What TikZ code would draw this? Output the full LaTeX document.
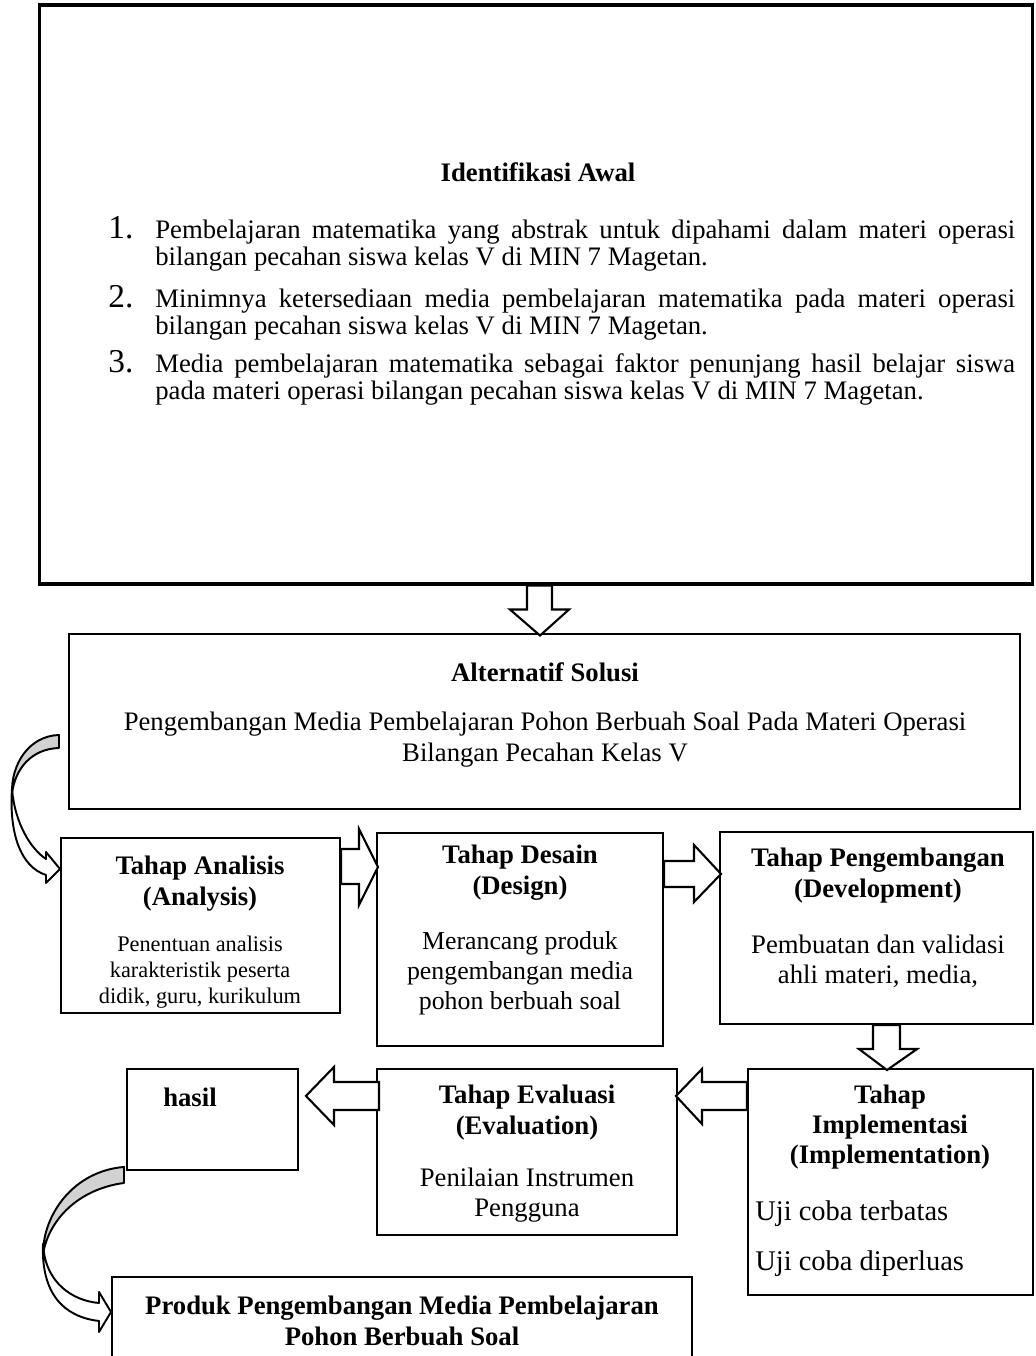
\documentclass[tikz,border=0pt]{standalone}
\usepackage{fontspec}
\setmainfont{Liberation Serif}
\usetikzlibrary{calc,positioning}
\hyphenpenalty=10000
\exhyphenpenalty=10000

\begin{document}
\begin{tikzpicture}[x=0.02cm,y=-0.02cm,
		box/.style={shape=rectangle,draw=black,line width=1.2pt,fill=white,inner sep=0pt},
		title/.style={font=\bfseries\fontsize{15.2}{17.6}\selectfont,align=center,inner sep=0pt},
		body/.style={font=\fontsize{15.2}{17}\selectfont,align=center,inner sep=0pt},
		item/.style={font=\fontsize{15.2}{15.9}\selectfont,text width=17.2cm,align=justify,inner sep=0pt,anchor=base west},
		num/.style={font=\fontsize{19}{19}\selectfont,inner sep=0pt,anchor=base west},
		barrow/.style={draw=black,line width=1.2pt,fill=white,line join=miter},
		carrow/.style={draw=black,line width=1.1pt,line join=round}]
	\useasboundingbox (0,0) rectangle (1035,1356);

	% kotak
	\node[box,line width=1.8pt,minimum width=19.88cm,minimum height=11.58cm] (awal) at (536,294.5) {};
	\node[box,minimum width=19.02cm,minimum height=3.5cm] (solusi) at (544.5,721.5) {};
	\node[box,minimum width=5.58cm,minimum height=3.5cm] (analisis) at (200.5,925.5) {};
	\node[box,minimum width=5.72cm,minimum height=4.26cm] (desain) at (520,939.5) {};
	\node[box,minimum width=6.26cm,minimum height=3.84cm] (kembang) at (876.5,928) {};
	\node[box,minimum width=5.7cm,minimum height=4.52cm] (implementasi) at (890.5,1182) {};
	\node[box,minimum width=6cm,minimum height=3.32cm] (evaluasi) at (527,1152) {};
	\node[box,minimum width=3.42cm,minimum height=2.02cm] (hasil) at (212.5,1119.5) {};
	\node[box,minimum width=11.6cm,minimum height=1.86cm] (produk) at (402,1323.5) {};

	% identifikasi awal
	\node[title] (awaltitle) at (538,172) {Identifikasi Awal};
	\node[num] (n1) at (108,238) {1.};
	\node[item] (item1) at (155,238) {Pembelajaran matematika yang abstrak untuk dipahami dalam materi operasi bilangan pecahan siswa kelas V di MIN 7 Magetan.};
	\node[num] (n2) at (108,307) {2.};
	\node[item] (item2) at (155,307) {Minimnya ketersediaan media pembelajaran matematika pada materi operasi bilangan pecahan siswa kelas V di MIN 7 Magetan.};
	\node[num] (n3) at (108,372) {3.};
	\node[item] (item3) at (155,372) {Media pembelajaran matematika sebagai faktor penunjang hasil belajar siswa pada materi operasi bilangan pecahan siswa kelas V di MIN 7 Magetan.};

	% alternatif solusi
	\node[title] (solusititle) at (545,672) {Alternatif Solusi};
	\node[body,font=\fontsize{15.2}{17.6}\selectfont] (solusibody) at (545,739.5) {Pengembangan Media Pembelajaran Pohon Berbuah Soal Pada Materi Operasi\\Bilangan Pecahan Kelas V};

	% tahap-tahap
	\node[title] (analisistitle) at (200,883.5) {Tahap Analisis\\(Analysis)};
	\node[body,font=\fontsize{12.7}{14.7}\selectfont] (analisisbody) at (200,972) {Penentuan analisis\\karakteristik peserta\\didik, guru, kurikulum};
	\node[title] (desaintitle) at (520,872.5) {Tahap Desain\\(Design)};
	\node[body,font=\fontsize{14.7}{17}\selectfont] (desainbody) at (520,973.5) {Merancang produk\\pengembangan media\\pohon berbuah soal};
	\node[title] (kembangtitle) at (878,875.5) {Tahap Pengembangan\\(Development)};
	\node[body] (kembangbody) at (878,961) {Pembuatan dan validasi\\ahli materi, media,};
	\node[title,font=\bfseries\fontsize{15.2}{17}\selectfont] (impltitle) at (890,1127) {Tahap\\Implementasi\\(Implementation)};
	\node[body,font=\fontsize{16.2}{17}\selectfont,anchor=base west] (impl1) at (755,1220) {Uji coba terbatas};
	\node[body,font=\fontsize{16.2}{17}\selectfont,anchor=base west] (impl2) at (755,1270) {Uji coba diperluas};
	\node[title] (evaltitle) at (527,1112.5) {Tahap Evaluasi\\(Evaluation)};
	\node[body] (evalbody) at (527,1195) {Penilaian Instrumen\\Pengguna};
	\node[title] (hasiltitle) at (190,1097) {hasil};
	\node[title] (produktitle) at (402,1321) {Produk Pengembangan Media Pembelajaran\\Pohon Berbuah Soal};

	% panah blok
	\draw[barrow] ($(awal.south)+(-9,0)$) -- ($(awal.south)+(-9,24)$) -- ($(awal.south)+(-26,24)$)
		-- ($(awal.south)+(4,50)$) -- ($(awal.south)+(33,24)$) -- ($(awal.south)+(16,24)$) -- ($(awal.south)+(16,0)$) -- cycle;
	\draw[barrow] ($(analisis.north east)+(0,12)$) -- ($(analisis.north east)+(18,12)$) -- ($(analisis.north east)+(18,-8)$)
		-- ($(analisis.north east)+(37,30)$) -- ($(analisis.north east)+(18,68)$) -- ($(analisis.north east)+(18,47)$) -- ($(analisis.north east)+(0,47)$) -- cycle;
	\draw[barrow] ($(desain.north east)+(0,29)$) -- ($(desain.north east)+(30,29)$) -- ($(desain.north east)+(30,13)$)
		-- ($(desain.north east)+(57,42)$) -- ($(desain.north east)+(30,70)$) -- ($(desain.north east)+(30,55)$) -- ($(desain.north east)+(0,55)$) -- cycle;
	\draw[barrow] ($(kembang.south)+(-3.5,0)$) -- ($(kembang.south)+(-3.5,24)$) -- ($(kembang.south)+(-17.5,24)$)
		-- ($(kembang.south)+(10.5,45)$) -- ($(kembang.south)+(40.5,24)$) -- ($(kembang.south)+(23.5,24)$) -- ($(kembang.south)+(23.5,0)$) -- cycle;
	\draw[barrow] ($(implementasi.north west)+(0,14)$) -- ($(implementasi.north west)+(-45,14)$) -- ($(implementasi.north west)+(-45,1)$)
		-- ($(implementasi.north west)+(-71,28)$) -- ($(implementasi.north west)+(-45,56)$) -- ($(implementasi.north west)+(-45,42)$) -- ($(implementasi.north west)+(0,42)$) -- cycle;
	\draw[barrow] ($(evaluasi.north west)+(3,14)$) -- ($(evaluasi.north west)+(-42,14)$) -- ($(evaluasi.north west)+(-42,-1)$)
		-- ($(evaluasi.north west)+(-70,28)$) -- ($(evaluasi.north west)+(-42,57)$) -- ($(evaluasi.north west)+(-42,42)$) -- ($(evaluasi.north west)+(3,42)$) -- cycle;

	% panah lengkung
	\begin{scope}[shift={(analisis.north west)}]
		\draw[carrow,fill=gray!35] (-1,-102) .. controls (-31,-101) and (-49,-73) .. (-48,-43)
			.. controls (-45,-68) and (-29,-88) .. (-1,-89) -- cycle;
		\draw[carrow,fill=white] (-48,-48) .. controls (-45,-13) and (-29,12) .. (-14,22) -- (-14,15) -- (0,32)
			-- (-14,46) -- (-14,38) .. controls (-39,30) and (-51,-3) .. (-48,-48) -- cycle;
	\end{scope}
	\begin{scope}[shift={(produk.north west)}]
		\draw[carrow,fill=gray!35] (13,-109) .. controls (-37,-105) and (-68,-62) .. (-68,-22)
			.. controls (-62,-57) and (-32,-87) .. (13,-93) -- cycle;
		\draw[carrow,fill=white] (-68,-32) .. controls (-66,8) and (-37,25) .. (-12,27) -- (-12,16) -- (0,36)
			-- (-12,56) -- (-12,45) .. controls (-47,41) and (-70,18) .. (-68,-32) -- cycle;
	\end{scope}
\end{tikzpicture}
\end{document}
